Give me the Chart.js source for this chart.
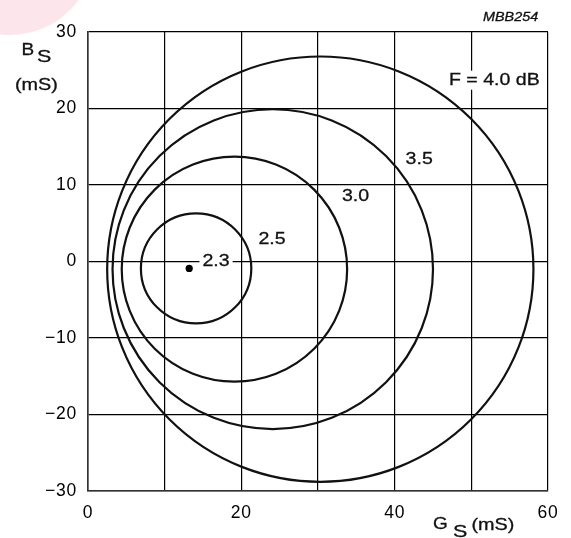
<!DOCTYPE html>
<html><head><meta charset="utf-8">
<script src="https://cdn.jsdelivr.net/npm/chart.js@4.4.0/dist/chart.umd.min.js"></script>
<style>html,body{margin:0;padding:0;background:#fff;} #wrap{width:571px;height:538px;position:relative;}</style>
</head><body><div id="wrap"><canvas id="c" width="571" height="538"></canvas></div>
<script>
// ---- data ----
const noiseFigures = ['2.3', '2.5', '3.0', '3.5', '4.0'];
const centerG = [13.2, 14.1, 19.1, 24.1, 30.3];      // mS
const centerB = [-0.9, -0.9, -1.0, -1.0, -1.0];      // mS
const circleRadius = [0, 7.2, 14.7, 20.9, 27.8];     // mS
const circleLabels = ['2.3', '2.5', '3.0', '3.5', 'F = 4.0 dB'];
const xTickValues = [0, 20, 40, 60];
const xTickLabels = ['0', '20', '40', '60'];
const yTickValues = [30, 20, 10, 0, -10, -20, -30];
const yTickLabels = ['30', '20', '10', '0', '\u221210', '\u221220', '\u221230'];

// ---- layout / style (not data) ----
const FONT = "'Liberation Sans', Arial, Helvetica, sans-serif";
const STRETCH = 1.15;
const LABEL_ANCHORS = [[16.7, 0], [24.0, 2.9], [34.9, 8.5], [43.2, 13.4], [53.0, 23.7]];

function stretchText(ctx, str, x, y, o) {
  ctx.save();
  ctx.letterSpacing = '0px';
  ctx.font = o.font;
  ctx.textBaseline = o.baseline || 'alphabetic';
  ctx.textAlign = 'left';
  const s = o.stretch || STRETCH;
  const w = ctx.measureText(str).width * s;
  let left = x;
  if (o.align === 'center') left = x - w / 2;
  else if (o.align === 'right') left = x - w;
  if (o.bg) {
    ctx.fillStyle = '#fff';
    ctx.fillRect(left - 3, y - 9.5, w + 6, 19);
  }
  ctx.translate(left, y);
  ctx.scale(s, 1);
  ctx.fillStyle = o.color || '#111';
  ctx.strokeStyle = o.color || '#111';
  ctx.lineWidth = 0.3;
  ctx.fillText(str, 0, 0);
  ctx.strokeText(str, 0, 0);
  ctx.restore();
}

const bgPlugin = {
  id: 'bg',
  beforeDraw(chart) {
    const ctx = chart.ctx;
    ctx.save();
    ctx.fillStyle = '#fff';
    ctx.fillRect(0, 0, chart.width, chart.height);
    ctx.fillStyle = '#fde6eb';
    ctx.beginPath();
    ctx.arc(10, -50, 85, 0, Math.PI * 2);
    ctx.fill();
    ctx.restore();
    ctx.letterSpacing = '0.8px';
  }
};

const circlePlugin = {
  id: 'noiseCircles',
  afterDatasetsDraw(chart) {
    const ctx = chart.ctx, xs = chart.scales.x, ys = chart.scales.y;
    ctx.save();
    ctx.strokeStyle = '#111';
    ctx.lineWidth = 2.2;
    chart.data.datasets.forEach((ds, i) => {
      const r = circleRadius[i];
      if (!r) return;
      const cx = xs.getPixelForValue(centerG[i]);
      const cy = ys.getPixelForValue(centerB[i]);
      const rx = xs.getPixelForValue(centerG[i] + r) - cx;
      const ry = cy - ys.getPixelForValue(centerB[i] + r);
      ctx.beginPath();
      ctx.ellipse(cx, cy, rx, ry, 0, 0, Math.PI * 2);
      ctx.stroke();
    });
    ctx.restore();
  }
};

const textPlugin = {
  id: 'texts',
  afterDraw(chart) {
    const ctx = chart.ctx, xs = chart.scales.x, ys = chart.scales.y;
    ctx.letterSpacing = '0px';
    circleLabels.forEach((t, i) => {
      const a = LABEL_ANCHORS[i];
      stretchText(ctx, t, xs.getPixelForValue(a[0]), ys.getPixelForValue(a[1]),
        { font: '17px ' + FONT, align: 'center', baseline: 'middle', bg: true });
    });
    // axis titles
    const f = '16.5px ' + FONT;
    stretchText(ctx, 'B', 21.5, 55, { font: f });
    stretchText(ctx, 'S', 37, 61.5, { font: f, stretch: 1.3 });
    stretchText(ctx, '(mS)', 15, 90, { font: f, stretch: 1.2 });
    stretchText(ctx, 'G', 433, 529, { font: f });
    stretchText(ctx, 'S', 453, 536.5, { font: f, stretch: 1.3 });
    stretchText(ctx, '(mS)', 471.5, 530, { font: f, stretch: 1.2 });
    stretchText(ctx, 'MBB254', 483, 20.5, { font: 'italic 12.5px ' + FONT });
  }
};

const tickFont = { family: FONT, size: 17.5 };

new Chart(document.getElementById('c'), {
  type: 'scatter',
  data: {
    datasets: noiseFigures.map((f, i) => ({
      label: 'F = ' + f + ' dB',
      data: [{ x: centerG[i], y: centerB[i] }],
      pointRadius: circleRadius[i] === 0 ? 3.6 : 0,
      pointBackgroundColor: '#000',
      pointBorderWidth: 0,
      showLine: false
    }))
  },
  options: {
    responsive: false,
    animation: false,
    events: [],
    layout: { padding: { left: 0, right: 23, top: 32, bottom: 0 } },
    plugins: { legend: { display: false }, tooltip: { enabled: false } },
    scales: {
      x: {
        type: 'linear', min: 0, max: 60,
        ticks: {
          stepSize: 10, autoSkip: false, maxRotation: 0, padding: 12, color: '#000', font: tickFont,
          callback: (v) => { const i = xTickValues.indexOf(v); return i < 0 ? '' : xTickLabels[i]; }
        },
        grid: { color: '#000', lineWidth: 1.2, drawTicks: false },
        border: { display: true, color: '#333', width: 1.6 },
        afterFit: (s) => { s.height = 47; }
      },
      y: {
        type: 'linear', min: -30, max: 30,
        ticks: {
          stepSize: 10, autoSkip: false, padding: 11, color: '#000', font: tickFont,
          callback: (v) => { const i = yTickValues.indexOf(v); return i < 0 ? '' : yTickLabels[i]; }
        },
        grid: { color: '#000', lineWidth: 1.2, drawTicks: false },
        border: { display: true, color: '#333', width: 1.6 },
        afterFit: (s) => { s.width = 88; }
      }
    }
  },
  plugins: [bgPlugin, circlePlugin, textPlugin]
});
</script>
</body></html>
